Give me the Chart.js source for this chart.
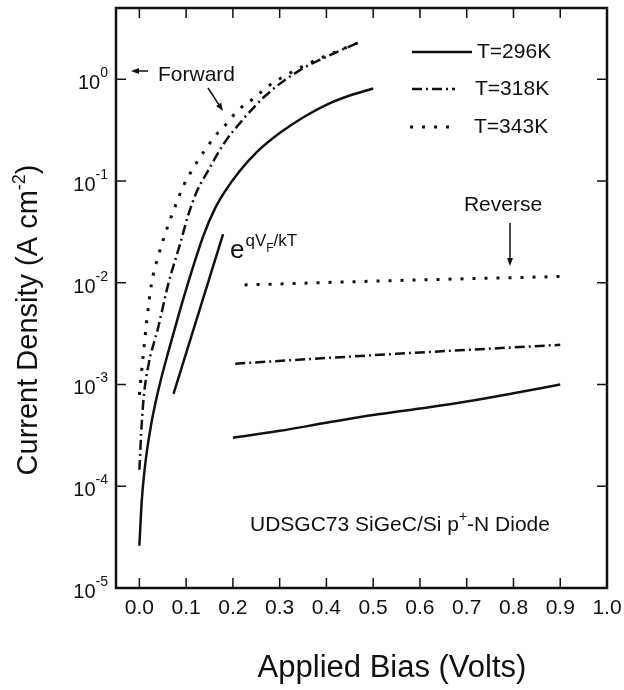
<!DOCTYPE html>
<html>
<head>
<meta charset="utf-8">
<script src="https://cdn.jsdelivr.net/npm/chart.js@4.4.1/dist/chart.umd.min.js"></script>
<style>
  html, body { margin: 0; padding: 0; background: #fff; }
  canvas { display: block; }
</style>
</head>
<body>
<canvas id="chart" width="624" height="690"></canvas>
<script>
// forward bias curves (V, A/cm^2)
const biasFwd296 = [0.0, 0.005, 0.01, 0.016, 0.025, 0.035, 0.045, 0.062, 0.087, 0.112, 0.137, 0.162, 0.183, 0.215, 0.25, 0.3, 0.35, 0.4, 0.45, 0.5];
const jFwd296 = [2.6e-5, 7.1e-5, 1.3e-4, 2.2e-4, 4.0e-4, 6.8e-4, 1.07e-3, 2.1e-3, 5.4e-3, 1.3e-2, 2.9e-2, 5.4e-2, 7.9e-2, 0.126, 0.19, 0.295, 0.42, 0.56, 0.69, 0.81];

const biasFwd318 = [0.0, 0.005, 0.01, 0.02, 0.04, 0.062, 0.087, 0.105, 0.123, 0.147, 0.18, 0.215, 0.27, 0.34, 0.41, 0.47];
const jFwd318 = [1.45e-4, 4.1e-4, 8.1e-4, 1.6e-3, 3.6e-3, 9.8e-3, 2.4e-2, 4.7e-2, 7.9e-2, 0.126, 0.23, 0.37, 0.69, 1.2, 1.74, 2.3];

const biasFwd343 = [0.0, 0.008, 0.016, 0.026, 0.04, 0.055, 0.073, 0.094, 0.112, 0.14, 0.166, 0.19, 0.21, 0.245, 0.275, 0.31, 0.36, 0.41, 0.47];
const jFwd343 = [7.9e-4, 1.9e-3, 4.3e-3, 9.8e-3, 1.8e-2, 3.0e-2, 5.1e-2, 8.9e-2, 0.126, 0.20, 0.29, 0.38, 0.49, 0.65, 0.85, 1.07, 1.41, 1.78, 2.3];

// reverse bias curves
const biasRev296 = [0.2, 0.3, 0.4, 0.5, 0.6, 0.7, 0.8, 0.9];
const jRev296 = [3.0e-4, 3.5e-4, 4.2e-4, 5.0e-4, 5.8e-4, 6.8e-4, 8.2e-4, 1.0e-3];
const biasRev318 = [0.205, 0.55, 0.9];
const jRev318 = [1.6e-3, 2.0e-3, 2.45e-3];
const biasRev343 = [0.225, 0.55, 0.9];
const jRev343 = [9.5e-3, 1.05e-2, 1.15e-2];

// e^(qV/kT) reference slope
const biasSlope = [0.073, 0.179];
const jSlope = [8.1e-4, 3.0e-2];

const xTicks = [0.0, 0.1, 0.2, 0.3, 0.4, 0.5, 0.6, 0.7, 0.8, 0.9, 1.0];
const yExponents = [0, -1, -2, -3, -4, -5];
const legendLabels = ['T=296K', 'T=318K', 'T=343K'];

const FONT = '"Liberation Sans", Arial, Helvetica, sans-serif';
const SOLID = [];
const DASHDOT = [10, 4, 2, 4];
const DOTTED = [3, 9];

const pts = (xs, ys) => xs.map((x, i) => ({ x, y: ys[i] }));

const line = (xs, ys, dash, width) => ({
  data: pts(xs, ys),
  borderColor: '#111',
  borderWidth: width,
  borderDash: dash,
  pointRadius: 0,
  fill: false,
  cubicInterpolationMode: 'monotone'
});

// draws frame, inward ticks, tick labels, titles, legend and annotations
const decorations = {
  id: 'decorations',
  afterDraw(chart) {
    const { ctx, chartArea: a, scales: { x, y } } = chart;
    ctx.save();
    ctx.strokeStyle = '#111';
    ctx.fillStyle = '#111';

    // frame
    ctx.lineWidth = 2.5;
    ctx.strokeRect(a.left, a.top, a.right - a.left, a.bottom - a.top);

    // inward ticks
    ctx.lineWidth = 1.5;
    ctx.beginPath();
    xTicks.slice(0, -1).forEach(v => {
      const px = x.getPixelForValue(v);
      ctx.moveTo(px, a.bottom); ctx.lineTo(px, a.bottom - 10);
      ctx.moveTo(px, a.top); ctx.lineTo(px, a.top + 10);
    });
    yExponents.slice(0, -1).forEach(e => {
      const py = y.getPixelForValue(Math.pow(10, e));
      ctx.moveTo(a.left, py); ctx.lineTo(a.left + 10, py);
      ctx.moveTo(a.right, py); ctx.lineTo(a.right - 10, py);
    });
    ctx.stroke();

    // x tick labels
    ctx.font = '21px ' + FONT;
    ctx.textAlign = 'center';
    ctx.textBaseline = 'middle';
    xTicks.forEach(v => ctx.fillText(v.toFixed(1), x.getPixelForValue(v), 608));

    // y tick labels 10^n
    ctx.textBaseline = 'alphabetic';
    yExponents.forEach(e => {
      const py = y.getPixelForValue(Math.pow(10, e));
      const ex = String(e);
      ctx.font = '14px ' + FONT;
      const ew = ctx.measureText(ex).width;
      ctx.textAlign = 'left';
      ctx.fillText(ex, 108 - ew, py - 2);
      ctx.font = '20px ' + FONT;
      ctx.textAlign = 'right';
      ctx.fillText('10', 108 - ew, py + 10);
    });

    // x title
    ctx.font = '31px ' + FONT;
    ctx.textAlign = 'center';
    ctx.fillText('Applied Bias (Volts)', 392, 677);

    // y title, rotated
    ctx.save();
    ctx.translate(37, 320);
    ctx.rotate(-Math.PI / 2);
    ctx.font = '29px ' + FONT;
    const t1 = 'Current Density (A cm';
    const w1 = ctx.measureText(t1).width;
    ctx.font = '18px ' + FONT;
    const w2 = ctx.measureText('-2').width;
    ctx.font = '29px ' + FONT;
    const w3 = ctx.measureText(')').width;
    const sx = -(w1 + w2 + w3) / 2;
    ctx.textAlign = 'left';
    ctx.fillText(t1, sx, 0);
    ctx.font = '18px ' + FONT;
    ctx.fillText('-2', sx + w1, -12);
    ctx.font = '29px ' + FONT;
    ctx.fillText(')', sx + w1 + w2, 0);
    ctx.restore();

    // legend
    const legendRows = [
      { dash: SOLID, x0: 412, x1: 472, y: 52, tx: 477, w: 2.5 },
      { dash: DASHDOT, x0: 412, x1: 455, y: 89, tx: 475, w: 2.5 },
      { dash: DOTTED, x0: 410, x1: 455, y: 127, tx: 474, w: 3 }
    ];
    legendRows.forEach((r, i) => {
      ctx.setLineDash(r.dash);
      ctx.lineWidth = r.w;
      ctx.beginPath();
      ctx.moveTo(r.x0, r.y); ctx.lineTo(r.x1, r.y);
      ctx.stroke();
      ctx.setLineDash([]);
      ctx.font = '21px ' + FONT;
      ctx.textAlign = 'left';
      ctx.textBaseline = 'middle';
      ctx.fillText(legendLabels[i], r.tx, r.y);
    });

    // annotations
    ctx.textBaseline = 'middle';
    ctx.font = '21px ' + FONT;
    ctx.fillText('Forward', 158, 75);
    ctx.textAlign = 'center';
    ctx.fillText('Reverse', 503, 205);
    drawArrow(ctx, 148, 71, 131, 71);
    drawArrow(ctx, 208, 88, 223, 111);
    drawArrow(ctx, 510, 223, 510, 266);

    // diode label with superscript +
    ctx.textAlign = 'left';
    ctx.textBaseline = 'alphabetic';
    ctx.font = '21px ' + FONT;
    const d1 = 'UDSGC73 SiGeC/Si p';
    const d3 = '-N Diode';
    const dw1 = ctx.measureText(d1).width;
    const dw3 = ctx.measureText(d3).width;
    ctx.font = '14px ' + FONT;
    const dw2 = ctx.measureText('+').width;
    const dx = 400 - (dw1 + dw2 + dw3) / 2;
    ctx.font = '21px ' + FONT;
    ctx.fillText(d1, dx, 531);
    ctx.font = '14px ' + FONT;
    ctx.fillText('+', dx + dw1, 521);
    ctx.font = '21px ' + FONT;
    ctx.fillText(d3, dx + dw1 + dw2, 531);

    // e^{qV_F/kT}
    ctx.font = '26px ' + FONT;
    ctx.fillText('e', 230, 258);
    let ex = 230 + ctx.measureText('e').width + 1;
    ctx.font = '17px ' + FONT;
    ctx.fillText('qV', ex, 246);
    ex += ctx.measureText('qV').width;
    ctx.font = '12px ' + FONT;
    ctx.fillText('F', ex, 252);
    ex += ctx.measureText('F').width;
    ctx.font = '17px ' + FONT;
    ctx.fillText('/kT', ex, 246);

    ctx.restore();
  }
};

function drawArrow(ctx, x0, y0, x1, y1) {
  const ang = Math.atan2(y1 - y0, x1 - x0);
  const len = 8, half = 3;
  ctx.lineWidth = 1.5;
  ctx.beginPath();
  ctx.moveTo(x0, y0);
  ctx.lineTo(x1 - Math.cos(ang) * len * 0.8, y1 - Math.sin(ang) * len * 0.8);
  ctx.stroke();
  ctx.beginPath();
  ctx.moveTo(x1, y1);
  ctx.lineTo(x1 - Math.cos(ang) * len + Math.sin(ang) * half, y1 - Math.sin(ang) * len - Math.cos(ang) * half);
  ctx.lineTo(x1 - Math.cos(ang) * len - Math.sin(ang) * half, y1 - Math.sin(ang) * len + Math.cos(ang) * half);
  ctx.closePath();
  ctx.fill();
}

new Chart(document.getElementById('chart').getContext('2d'), {
  type: 'line',
  data: {
    datasets: [
      line(biasFwd296, jFwd296, SOLID, 2.5),
      line(biasFwd318, jFwd318, DASHDOT, 2.5),
      line(biasFwd343, jFwd343, DOTTED, 3),
      line(biasRev296, jRev296, SOLID, 2.5),
      line(biasRev318, jRev318, DASHDOT, 2.5),
      line(biasRev343, jRev343, DOTTED, 3),
      line(biasSlope, jSlope, SOLID, 2.5)
    ]
  },
  options: {
    responsive: false,
    animation: false,
    layout: { padding: { left: 116, top: 8, right: 17, bottom: 102 } },
    plugins: { legend: { display: false }, tooltip: { enabled: false } },
    scales: {
      x: { type: 'linear', min: -0.05, max: 1.0, display: false },
      y: { type: 'logarithmic', min: 1e-5, max: 5, display: false }
    }
  },
  plugins: [decorations]
});
</script>
</body>
</html>
